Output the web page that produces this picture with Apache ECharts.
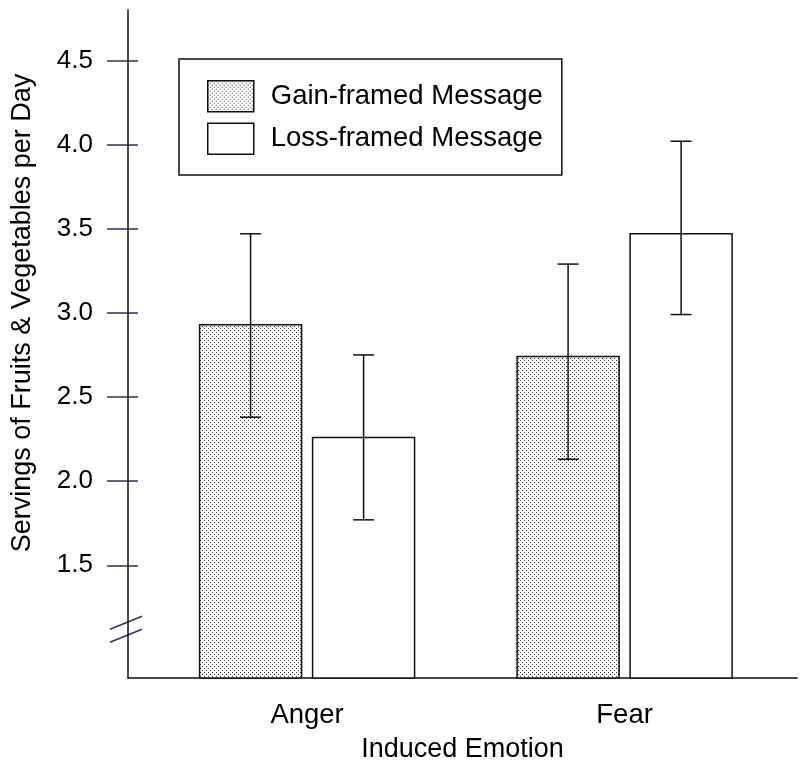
<!DOCTYPE html>
<html>
<head>
<meta charset="utf-8">
<script src="https://cdn.jsdelivr.net/npm/echarts@6/dist/echarts.min.js"></script>
<style>html,body{margin:0;padding:0;background:#fff}#chart{width:800px;height:777px}</style>
</head>
<body>
<div id="chart"></div>
<script>
// 数据
var categories = ['Anger', 'Fear'];
var gainMean = [2.93, 2.74];
var gainLow = [2.38, 2.13];
var gainHigh = [3.47, 3.29];
var lossMean = [2.26, 3.47];
var lossLow = [1.77, 2.99];
var lossHigh = [2.75, 4.02];
var yTicks = [1.5, 2.0, 2.5, 3.0, 3.5, 4.0, 4.5];

var FONT = '"Liberation Sans", Arial, sans-serif';
var TICK = '#3b2a6a';
var INK = '#111';
var Y_MIN = 0.83, Y_MAX = 4.8;
var X_MIN = 0.436, X_MAX = 2.543;
var BREAK_AT = 1.12;

// 点状填充
function dotPattern() {
  var c = document.createElement('canvas');
  c.width = 4; c.height = 4;
  var g = c.getContext('2d');
  g.fillStyle = '#fff'; g.fillRect(0, 0, 4, 4);
  g.fillStyle = '#333';
  g.fillRect(0, 0, 1, 1); g.fillRect(2, 2, 1, 1);
  return {image: c, repeat: 'repeat'};
}
var dots = dotPattern();

function toData(mean, low, high) {
  return categories.map(function (c, i) { return [i + 1, mean[i], low[i], high[i]]; });
}

// side: -1 左边柱, 1 右边柱
function barRenderer(side, fill) {
  return function (params, api) {
    var x = api.value(0);
    var top = api.coord([x, api.value(1)]);
    var base = api.coord([x, Y_MIN]);
    var lo = api.coord([x, api.value(2)]);
    var hi = api.coord([x, api.value(3)]);
    var halfGap = 5.5, w = 102, cap = 10.5;
    var left = side < 0 ? top[0] - halfGap - w : top[0] + halfGap;
    var cx = left + w / 2;
    var ln = {stroke: INK, lineWidth: 1.5};
    return {
      type: 'group',
      children: [
        {type: 'rect', shape: {x: left, y: top[1], width: w, height: base[1] - top[1]},
          style: {fill: fill, stroke: INK, lineWidth: 1.5}},
        {type: 'line', shape: {x1: cx, y1: hi[1], x2: cx, y2: lo[1]}, style: ln},
        {type: 'line', shape: {x1: cx - cap, y1: hi[1], x2: cx + cap, y2: hi[1]}, style: ln},
        {type: 'line', shape: {x1: cx - cap, y1: lo[1], x2: cx + cap, y2: lo[1]}, style: ln}
      ]
    };
  };
}

var chart = echarts.init(document.getElementById('chart'));
var option = {
  animation: false,
  backgroundColor: '#fff',
  textStyle: {fontFamily: FONT},
  grid: {left: 128, top: 10, right: 3, bottom: 99},
  legend: {
    orient: 'vertical',
    left: 179,
    top: 59,
    padding: [21, 19, 20, 28],
    itemWidth: 46,
    itemHeight: 31,
    itemGap: 10,
    borderColor: INK,
    borderWidth: 1.5,
    icon: 'rect',
    selectedMode: false,
    textStyle: {fontFamily: FONT, fontSize: 27.5, color: '#000', padding: [0, 0, 0, 12]},
    data: [
      {name: 'Gain-framed Message', itemStyle: {color: dots, borderColor: INK, borderWidth: 1.5}},
      {name: 'Loss-framed Message', itemStyle: {color: '#fff', borderColor: INK, borderWidth: 1.5}}
    ]
  },
  xAxis: {
    type: 'value',
    min: X_MIN,
    max: X_MAX,
    axisLine: {show: true, onZero: false, lineStyle: {color: INK, width: 1.5}},
    axisTick: {show: false},
    splitLine: {show: false},
    axisLabel: {
      customValues: [1, 2],
      formatter: function (v) { return categories[Math.round(v) - 1]; },
      margin: 23,
      fontSize: 27.5,
      fontFamily: FONT,
      color: '#000'
    },
    name: 'Induced Emotion',
    nameLocation: 'middle',
    nameGap: 58,
    nameTextStyle: {fontSize: 27, fontFamily: FONT, color: '#000'}
  },
  yAxis: [{
    type: 'value',
    min: Y_MIN,
    max: Y_MAX,
    axisLine: {show: true, lineStyle: {color: INK, width: 1.5}},
    axisTick: {show: true, customValues: yTicks, length: 21, lineStyle: {color: TICK, width: 1.5}},
    axisLabel: {
      customValues: yTicks,
      formatter: function (v) { return v.toFixed(1); },
      margin: 35,
      fontSize: 26,
      fontFamily: FONT,
      color: '#000'
    },
    splitLine: {show: false},
    name: 'Servings of Fruits & Vegetables per Day',
    nameLocation: 'middle',
    nameGap: 92,
    nameTextStyle: {fontSize: 27, fontFamily: FONT, color: '#000', padding: [0, 0, 0, 62]}
  }, {
    // 轴内侧的短刻度
    type: 'value',
    position: 'left',
    min: Y_MIN,
    max: Y_MAX,
    axisLine: {show: false},
    axisTick: {show: true, inside: true, customValues: yTicks, length: 10, lineStyle: {color: TICK, width: 1.5}},
    axisLabel: {show: false},
    splitLine: {show: false}
  }],
  series: [{
    name: 'Gain-framed Message',
    type: 'custom',
    renderItem: barRenderer(-1, dots),
    itemStyle: {color: dots, borderColor: INK, borderWidth: 1.5},
    encode: {x: 0, y: [1, 2, 3]},
    data: toData(gainMean, gainLow, gainHigh)
  }, {
    name: 'Loss-framed Message',
    type: 'custom',
    renderItem: barRenderer(1, '#fff'),
    itemStyle: {color: '#fff', borderColor: INK, borderWidth: 1.5},
    encode: {x: 0, y: [1, 2, 3]},
    data: toData(lossMean, lossLow, lossHigh)
  }]
};
chart.setOption(option);

// 轴断裂标记
var p = chart.convertToPixel({gridIndex: 0}, [X_MIN, BREAK_AT]);
var brk = {stroke: TICK, lineWidth: 1.5};
chart.setOption({
  graphic: [
    {type: 'line', shape: {x1: p[0] - 18, y1: p[1], x2: p[0] + 14, y2: p[1] - 13}, style: brk},
    {type: 'line', shape: {x1: p[0] - 18, y1: p[1] + 13, x2: p[0] + 14, y2: p[1]}, style: brk}
  ]
});
</script>
</body>
</html>
